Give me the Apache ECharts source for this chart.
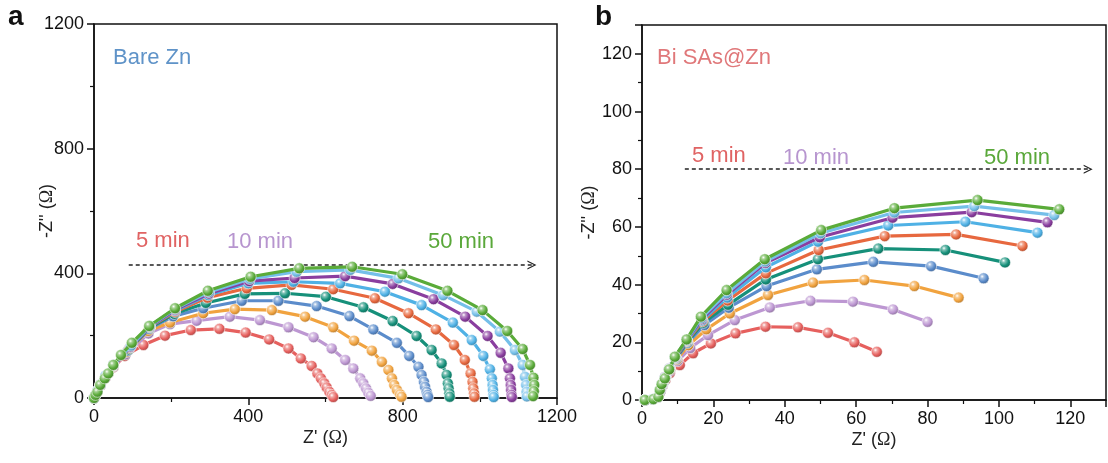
<!DOCTYPE html>
<html>
<head>
<meta charset="utf-8">
<script src="https://cdn.jsdelivr.net/npm/echarts@6/dist/echarts.min.js"></script>
<style>
html,body{margin:0;padding:0;background:#fff;}
#chart{width:1108px;height:463px;}
</style>
</head>
<body>
<div id="chart"></div>
<script>
// ---------- DATA ----------
const seriesNames = ['5 min','10 min','15 min','20 min','25 min','30 min','35 min','40 min','45 min','50 min'];

// Panel a: Bare Zn  [Z', -Z'']
const a5  = [[0,0],[4,10],[9,22],[17,40],[30,65],[50,98],[80,135],[128,170],[184,200],[251,218],[325,222],[393,210],[454,188],[504,159],[536,127],[564,103],[579,79],[588,63],[597,47],[603,34],[610,20],[616,10],[620,3]];
const a10 = [[0,0],[4,10],[9,22],[17,40],[30,66],[50,100],[82,140],[141,207],[197,237],[266,248],[352,261],[430,250],[504,227],[569,195],[616,159],[651,122],[672,95],[690,63],[698,47],[705,31],[711,17],[717,7]];
const a15 = [[0,0],[4,10],[9,23],[17,41],[30,67],[50,102],[85,148],[140,215],[197,242],[283,272],[365,285],[461,282],[547,261],[620,227],[674,184],[720,152],[746,116],[763,90],[772,63],[778,42],[785,26],[793,12],[797,4]];
const a20 = [[0,0],[4,10],[9,23],[17,42],[30,68],[50,104],[88,152],[143,222],[205,262],[283,288],[383,312],[478,312],[577,295],[662,263],[724,220],[785,177],[817,135],[841,100],[849,74],[855,52],[858,36],[862,20],[864,10],[866,3]];
const a25 = [[0,0],[4,10],[9,23],[17,42],[30,69],[50,105],[90,156],[145,226],[208,270],[290,305],[391,334],[495,336],[601,325],[698,291],[774,247],[836,199],[875,154],[901,111],[914,74],[917,47],[919,31],[921,15],[922,4]];
const a30 = [[0,0],[4,10],[9,23],[17,43],[30,70],[50,105],[92,160],[145,228],[210,276],[294,322],[396,352],[512,363],[620,349],[728,320],[815,272],[886,220],[933,170],[961,122],[976,79],[981,52],[983,31],[985,15],[986,4]];
const a35 = [[0,0],[4,10],[9,23],[17,43],[30,70],[50,106],[94,163],[145,229],[210,280],[296,330],[400,368],[517,373],[638,368],[754,341],[849,298],[930,242],[979,186],[1009,135],[1026,92],[1031,63],[1033,42],[1034,26],[1035,10],[1036,3]];
const a40 = [[0,0],[4,10],[9,23],[17,43],[30,71],[50,106],[95,165],[145,230],[210,283],[298,335],[402,375],[520,385],[651,391],[774,366],[880,317],[962,261],[1020,199],[1054,145],[1074,95],[1078,63],[1080,42],[1081,26],[1082,10],[1083,3]];
const a45 = [[0,0],[4,10],[9,23],[17,43],[30,72],[50,106],[96,168],[145,231],[210,286],[298,340],[404,382],[525,405],[664,411],[789,384],[905,330],[992,277],[1052,213],[1091,154],[1111,106],[1117,68],[1120,42],[1121,20],[1122,5]];
const a50 = [[0,0],[4,10],[9,20],[16,42],[28,63],[37,79],[50,106],[70,138],[98,177],[143,231],[210,288],[295,344],[406,389],[532,416],[669,421],[799,397],[916,344],[1007,282],[1071,215],[1111,157],[1130,106],[1139,65],[1141,42],[1140,22],[1138,6]];

// Panel b: Bi SAs@Zn
const b5  = [[0.8,0],[3,0.3],[4.5,1],[5.2,3],[5.8,5],[6.6,7],[7.8,9.3],[10.6,12.1],[14.3,16.2],[19.3,19.6],[26.2,23.1],[34.6,25.4],[43.7,25.2],[52.1,23.3],[59.5,20],[65.8,16.7]];
const b10 = [[0.8,0],[3,0.3],[4.5,1],[5.2,3],[5.8,5.2],[6.6,7.5],[7.8,10],[10,13.5],[13.5,18],[18.5,22.5],[26,27.7],[35.8,32.1],[47.2,34.4],[59.1,34.1],[70.3,31.4],[80,27.1]];
const b15 = [[0.8,0],[3,0.3],[4.5,1],[5.2,3.2],[5.8,5.5],[6.6,7.8],[7.8,10.5],[9.8,14],[13,19],[18,24.5],[24.6,30],[35.3,36.4],[47.9,40.7],[62.3,41.6],[76.3,39.5],[88.7,35.5]];
const b20 = [[0.8,0],[3,0.3],[4.5,1],[5.2,3.2],[5.8,5.5],[6.6,8],[7.8,11],[9.6,14.3],[12.8,19.8],[17.5,26],[24.3,32],[34.9,39.5],[49,45.3],[64.8,47.9],[81,46.4],[95.7,42.2]];
const b25 = [[0.8,0],[3,0.3],[4.5,1],[5.2,3.3],[5.8,5.5],[6.5,8],[7.7,11],[9.5,14.5],[12.7,20.2],[17.2,26.8],[24.1,33],[34.7,41.8],[49.3,48.8],[66.2,52.5],[85,52],[101.7,47.7]];
const b30 = [[0.8,0],[3,0.3],[4.5,1],[5.2,3.3],[5.7,5.5],[6.5,8],[7.7,11],[9.4,14.6],[12.6,20.4],[17,27.3],[24,34.5],[34.7,43.9],[49.5,52],[68,56.8],[88,57.4],[106.6,53.4]];
const b35 = [[0.8,0],[3,0.3],[4.5,1],[5.1,3.3],[5.6,5.5],[6.5,8],[7.7,11],[9.3,14.7],[12.6,20.6],[16.8,27.6],[23.9,35.5],[34.7,46],[49.3,54.9],[69,60.5],[90.6,61.8],[110.8,58]];
const b40 = [[0.8,0],[3,0.3],[4.5,1],[5.1,3.4],[5.6,5.5],[6.4,7.8],[7.6,10.8],[9.3,14.8],[12.5,20.7],[16.7,28],[23.8,36.5],[34.6,47.5],[49.8,56.4],[70.2,63.2],[92.4,65.1],[113.6,61.6]];
const b45 = [[0.8,0],[3,0.3],[4.5,1],[5,3.5],[5.5,5.5],[6.4,7.6],[7.6,10.7],[9.2,14.9],[12.5,20.8],[16.6,28.4],[23.7,37],[34.5,48],[50,57.8],[70.7,65],[93.1,67.2],[115.5,64.1]];
const b50 = [[0.8,0],[3.2,0.3],[4.6,1.1],[5,3.5],[5.5,5.5],[6.4,7.5],[7.6,10.6],[9.2,15],[12.5,21],[16.5,28.9],[23.7,38.1],[34.4,48.8],[50.2,58.9],[70.7,66.5],[94,69.3],[116.9,66.1]];

const seriesA = [a5,a10,a15,a20,a25,a30,a35,a40,a45,a50];
const seriesB = [b5,b10,b15,b20,b25,b30,b35,b40,b45,b50];

// Axes
const axisA = {min:0, max:1200, interval:400};
const axisB = {min:0, max:130, interval:20};

// Annotation arrows (data coords)
const arrowA = [[90,427],[1135,427]];
const arrowB = [[12,80],[125,80]];

// ---------- STYLE ----------
const colors = ['#e6605e','#bd97d2','#f1a33f','#5b8ccb','#16907a','#e7683f','#4fb1e5','#8a3e9f','#74bfe9','#5aab39'];
const FONT = "'Liberation Sans', Arial, sans-serif";

function shade(hex, f){
  const n = parseInt(hex.slice(1),16);
  let r=(n>>16)&255,g=(n>>8)&255,b=n&255;
  if(f>=0){r=r+(255-r)*f;g=g+(255-g)*f;b=b+(255-b)*f;}
  else{r=r*(1+f);g=g*(1+f);b=b*(1+f);}
  return 'rgb('+Math.round(r)+','+Math.round(g)+','+Math.round(b)+')';
}
function ball(c){
  return {type:'radial', x:0.38, y:0.35, r:0.7, colorStops:[
    {offset:0,color:'#ffffff'},{offset:0.22,color:shade(c,0.45)},
    {offset:0.6,color:c},{offset:1,color:shade(c,-0.3)}]};
}

function makeAxis(cfg, gridIndex, isX, name){
  return {
    type:'value', gridIndex, min:cfg.min, max:cfg.max, interval:cfg.interval,
    name, nameLocation:'middle', nameMoveOverlap:false,
    nameGap: isX ? 31 : (gridIndex===0 ? 38 : 44),
    nameTextStyle:{fontFamily:FONT, fontSize:18, color:'#222',
      rich:{o:{fontFamily:"'Liberation Serif', 'DejaVu Serif', serif", fontSize:18, color:'#222'}}},
    axisLine:{show:true, onZero:false, lineStyle:{color:'#111', width:1.5}},
    axisTick:{show:true, inside:false, length:7, lineStyle:{color:'#111', width:1.5}},
    minorTick:{show:true, splitNumber:2, length:4, lineStyle:{color:'#111', width:1.2}},
    splitLine:{show:false},
    axisLabel:{fontFamily:FONT, fontSize:18, color:'#111', margin:10,
      showMaxLabel:(gridIndex===0), formatter:(v)=>String(v)}
  };
}

const chevron = 'path://M0,10 L5,0 L10,10 L8.6,10 L5,2.8 L1.4,10 Z';

const series = [];
function addPanel(list, idx, arrow){
  list.forEach((d,i)=>{
    const s = {
      name: seriesNames[i], type:'line', xAxisIndex:idx, yAxisIndex:idx,
      data:d, symbol:'circle', symbolSize:11, showSymbol:true,
      lineStyle:{color:colors[i], width:3.2},
      itemStyle:{color:ball(colors[i]), borderColor:'rgba(255,255,255,0.7)', borderWidth:0.8},
      z: 2+i, animation:false
    };
    if(i===0){
      s.markLine = {silent:true, symbol:['none', chevron], symbolSize:[9,9], animation:false,
        label:{show:false},
        lineStyle:{type:[4,3], color:'#222', width:1.5},
        data:[[{coord:arrow[0]},{coord:arrow[1]}]]};
    }
    series.push(s);
  });
}
addPanel(seriesA, 0, arrowA);
addPanel(seriesB, 1, arrowB);

const txt = (t, x, y, color, size, weight) => ({
  type:'text', left:x, top:y,
  style:{text:t, fill:color, font:(weight||'normal')+' '+size+'px '+FONT}
});

const option = {
  backgroundColor:'#fff',
  animation:false,
  grid:[
    {left:94, top:24, width:463, height:374, show:true, borderColor:'#111', borderWidth:1.5, backgroundColor:'transparent'},
    {left:642, top:25, width:464, height:375, show:true, borderColor:'#111', borderWidth:1.5, backgroundColor:'transparent'}
  ],
  xAxis:[makeAxis(axisA,0,true,"Z' ({o|Ω})"), makeAxis(axisB,1,true,"Z' ({o|Ω})")],
  yAxis:[makeAxis(axisA,0,false,"-Z'' ({o|Ω})"), makeAxis(axisB,1,false,"-Z'' ({o|Ω})")],
  series,
  graphic:[
    txt('a', 8, 3, '#111', 28, 'bold'),
    txt('b', 595, 3, '#111', 28, 'bold'),
    txt('Bare Zn', 113, 47, '#5f93c8', 22),
    txt('5 min', 136, 230, '#e06363', 22),
    txt('10 min', 227, 231, '#b795cf', 22),
    txt('50 min', 428, 231, '#5aa83a', 22),
    txt('Bi SAs@Zn', 657, 47, '#e0787a', 22),
    txt('5 min', 692, 145, '#e06363', 22),
    txt('10 min', 783, 147, '#b795cf', 22),
    txt('50 min', 984, 147, '#5aa83a', 22)
  ]
};

const chart = echarts.init(document.getElementById('chart'), null, {renderer:'canvas'});
chart.setOption(option);
</script>
</body>
</html>
